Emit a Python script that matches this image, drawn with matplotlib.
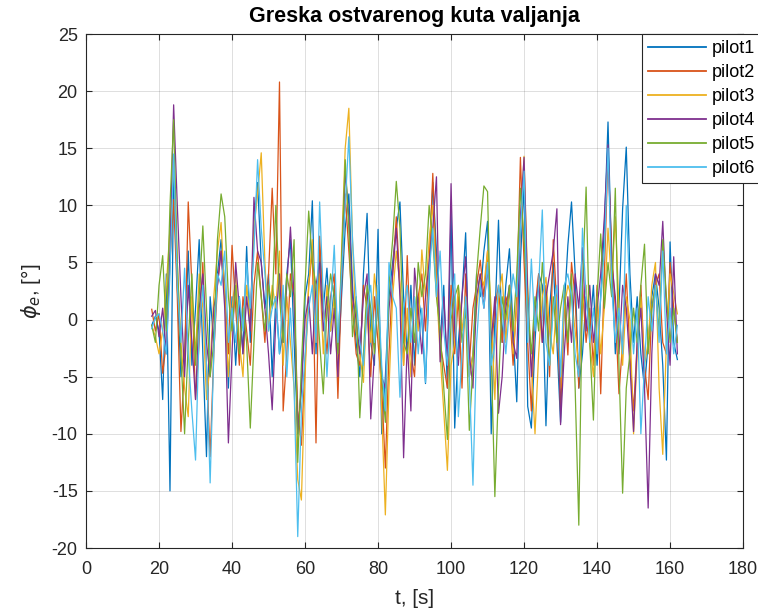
import numpy as np
import matplotlib.pyplot as plt

# greska kuta valjanja za 6 pilota, uzorak svake sekunde od t=18 s
t_start = 18

pilot1 = [-0.5, 0.3, -1, -7, 4, -15, 13, 3, -5, -3,
          6, -4, 1, 7, -3, -12, 2, -2, 4, 7,
          3, -6, 2, -4, 2, -3, 6.4, -2, 8, 12,
          5, 1, 4, -5, 2, -3, -1, 4, 7, -2,
          -10, -6, 2, 4, 10.4, -3, 6, 1, 4.5, -1,
          3, -4, 2, 8, 11, 3, -2, -5, 4, 9.3,
          -2, -4, 7.9, -10, -5, 2, 5, 8, 10.3, 2,
          -3, 3, -4, 2, 0, -5.6, 3, 12, 6, -2,
          3, -6, 9.5, -9.5, -2, 2, 7.6, -5, -3, 4,
          2, 6, 8.6, -10, 0, 8.7, -2, 3, 6.2, -1,
          -7.2, 5, 12, -7.6, -9.5, -2, 4, 3, -9.3, 1,
          5, -2, -9, 1, 6.5, 10.3, 4, -6, -3, 2,
          -1, 3, -4, 2, 8, 17.3, 5, -3, 1, 9.7,
          15.1, 4, -2, 2, -3, -6, -2, 2, 4, 1,
          -4, -12.3, 6.8, -2, -3.5]

pilot2 = [0.9, -1, 0.5, -4.7, -2, 5, 10.5, 2, -9.8, -4,
          10.3, 3, -7, -2, 5, -4, -12, -3, 3, 6,
          2, -3, 6.5, 1, -4, 2, -1, -4, 3, 6,
          2, -2, 4, 11.5, 4, 20.8, -8, -3, 4, 2,
          -8, -11, -4, 3, 6, -10.8, 7.3, 1, -3, 2,
          4, -6.9, 3, 11, 6, 1, -3, -4, 3, 1,
          -5, 2, -2, -6, -13, -3, 4, 9, 3, -4,
          5.6, -3, -5, 2, 4, -1, 5, 12.8, 4, -2,
          -4, -6, 3, -3, 2, -6, 4, -4, 1, 3,
          5.2, 2, 6, -3, 1, 3, -2, 2, 1, -4,
          2, 14.2, 5, -2, -8, 1, 4, -2, 3, -5,
          7, 1, -8, 2, -3.1, 5, 2, -6, 3, -2,
          1, -4, 3, -6.5, 4, 14.5, 6, 1, -6.5, -2,
          4, -3, -8, -2, 3, -4, -7, 1, 3, 4,
          -2, -3, 5, 1, -2]

pilot3 = [-0.5, -1.5, -3, -1, 3, 8, 14, 5, -2, -6,
          -8.5, 2, -3, 4, 1, -7, -4, 2, 6, 8.5,
          2, -5, 1, 4, -2, -5, 3, 0, 8, 11,
          14.6, 5, -1, 3, 1, 6, -4, 2, -2, -6,
          -14, -15.8, -5, 3, 7, -2, 4, -3, 3, -1,
          2, -4, 6, 15, 18.5, 7, -1, -3, -5.5, 2,
          -2, 4, 1, -8, -17.1, -6, 2, 6, 3, -4,
          1, -5, 2, -1, 6.1, 2, 7, 10, 3, -3,
          -8, -13.2, -4, -2, 3, -1, 2, -5, -3, 1,
          4, 3, 6, 1, -7, 2, 4, -2, 3, -3,
          1, 8, 14.3, 3, -4, -10, -3, 2, 3.7, -1,
          -3, 2, -6, 1, 3, 2, -1, -4, 1, 3,
          -2, -5, 2, -3, 1, 8, 3, 9, 1, -4,
          2, 0, -10, -3, 2, -4, -2, 3, 5, -6,
          -11.8, -2, 4, 2.3, 0.5]

pilot4 = [0.3, 0.8, -1.5, 1, -3, 6, 18.8, 10, 2, -5,
          3, -2, -7, 1, 4, -2, -5, 1, 3, 6,
          1, -10.8, -3, 5, 1, -3, 2, -1, 10.7, 6,
          5, 1, -3, -7.9, 0, 4, -2, 3, 8.1, 2,
          -10, -6, 0, 2, -3, 3, 5, -1, 2, -3,
          1, -5, 4, 13, 9, 2, 0, -3, 2, 4,
          -8.7, -3, 2, -5, -6, 1, 4, 8, 2, -12.1,
          -2, -8, 4.5, 1, -3, 2, 5, 8, 12.5, -3.7,
          2, -4, 11.9, -1, -4, 2, 5.5, -3, -6, 2,
          4, 1, 4.7, -2, 2, -8.2, -5, 1, 3, -2,
          -3.4, 9, 14.2, 2, -5, 1, 3, -2, 2, 4,
          6, 9.7, -9.2, -3, 2, -2, 4, 1, 6.3, -1,
          3, -2, 1, 4, 9, 15.3, 5, 2, -3, 3,
          1, -4, -9.8, -2, 1, -6, -16.5, -3, 4, 3,
          8.6, 1, -4, 5.5, -3]

pilot5 = [-0.5, -2, 3, 5.6, -1, 10, 17.5, 5, -3, -10,
          -2, 4, -4, 2, 8.2, 1, -5, -2, 7, 11,
          9, 2, -1, 3, -3, 1, -2, -9.5, -2, 5,
          2, -1, 3, 1, 10, 2, -2, 4, 2, 7,
          -12.5, -4, 3, 9.5, 5, 3, -2, -6.5, 1, 4,
          2, -3, 5, 14, 8, -1.5, 2, -8.6, -3, 3,
          1, -3, 2, -5, -9, 3, 7, 12.1, 8, -2,
          -3, 1, -2, 5, 2, 4, 10, 7, 2, -1,
          -6, -10.5, 0, 2, 3, -2, 1, -9.7, -4, 4,
          8, 11.7, 11.2, -3, -15.5, -6, 2, 0, 3, -1,
          4, 11.5, 7, 1, -3, 2, -1, 5, 1, -4,
          2, -2, 1, 3, -2, 4, -6, -18, 3, 11.6,
          -2, -8.8, 2, 7.5, 1, 5, 2, 11.5, -4, -15.2,
          -6, -3, 1, -2, 3, 6.6, -3, 1, 3, -1,
          7, 2, -2, 1, -2]

pilot6 = [-0.8, 0.2, 0.5, -1, -3, 4, 14.5, 3, -2, 4.5,
          -3, -8, -12.3, -1, 3, -4, -14.3, -3, 4, 3,
          6, -2, 1, -2, 2, -1, 5, 1, 6, 14,
          8, 4, -1, 1, 2, -3, 3, -5, 1, -6,
          -19, -8, -3, 1, 3, -2, 10.3, 2, -5, 1,
          6.5, -2, 4, 10, 16, 7, 2, -2, -4, 1,
          3, -2, 3, -4, -8, 5, 2, 1, -6.8, 1,
          3, -2, 2, -3, 1, -5.5, 4, 8, 2, 6,
          -1, -4, 1, 4, -8.5, -3, 2, -5, -14.5, -2,
          3, 1, 5, -4, -2, 3, 1, -3, 1, 4,
          2, 8, 13, -2, 5.3, -1, 3, 9.6, -2, -4,
          1, 3, -5, 3, 4, 2, -3, -5, 8, 2,
          -2, 1, -3, 2, 6, 15, 3, -2, 1, -3,
          10, 2, -3, 1, -10, -4, 2, -1, 3, -2,
          6, -3, 1, -3, -0.5]

series = [pilot1, pilot2, pilot3, pilot4, pilot5, pilot6]
labels = ['pilot1', 'pilot2', 'pilot3', 'pilot4', 'pilot5', 'pilot6']
colors = ['#0072BD', '#D95319', '#EDB120', '#7E2F8E', '#77AC30', '#4DBEEE']

plt.rcParams['font.family'] = ['Liberation Sans', 'DejaVu Sans']
plt.rcParams['axes.unicode_minus'] = False

fig = plt.figure(figsize=(7.58, 6.13), dpi=100)
ax = fig.add_axes([0.1135, 0.106, 0.8668, 0.8385])

for y, lab, c in zip(series, labels, colors):
    t = np.arange(t_start, t_start + len(y))
    ax.plot(t, y, color=c, linewidth=0.9, label=lab)

ax.set_xlim(0, 180)
ax.set_ylim(-20, 25)
ax.set_xticks(np.arange(0, 181, 20))
ax.set_yticks(np.arange(-20, 26, 5))
ax.grid(True, color='#262626', alpha=0.15, linewidth=0.7)
ax.tick_params(direction='in', top=True, right=True, labelsize=13,
               colors='#262626', length=4, pad=6)
ax.tick_params(axis='x', pad=9.5)
for s in ax.spines.values():
    s.set_color('#262626')
    s.set_linewidth(0.8)

ax.set_title('Greska ostvarenog kuta valjanja', fontsize=15.5,
             fontweight='bold', pad=9)
ax.set_xlabel('t, [s]', fontsize=15, color='#262626', labelpad=8)
ax.set_ylabel(r'$\phi_e$, [°]', fontsize=15, color='#262626', labelpad=6)

leg = ax.legend(loc='upper left', bbox_to_anchor=(642 / 758, 1 - 34 / 613),
                bbox_transform=fig.transFigure, fontsize=13, handlelength=3.2,
                handletextpad=0.35, labelspacing=0.39, borderaxespad=0,
                fancybox=False, framealpha=1, edgecolor='#262626',
                borderpad=0.33)
leg.get_frame().set_linewidth(0.8)
for h in leg.get_lines():
    h.set_linewidth(1.3)

fig.savefig('out.png', dpi=100)
